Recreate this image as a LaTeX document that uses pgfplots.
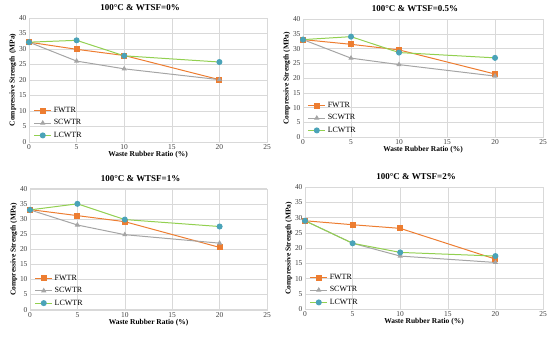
\documentclass[border=0pt]{standalone}
\usepackage{fontspec}
\setmainfont{Liberation Serif}
\usepackage{pgfplots}
\pgfplotsset{compat=1.18}
\definecolor{cF}{HTML}{ED7D31}
\definecolor{cS}{HTML}{A5A5A5}
\definecolor{cLl}{HTML}{92D050}
\definecolor{cLm}{HTML}{4AA3B8}
\definecolor{gridc}{HTML}{D9D9D9}
\pgfplotsset{
  panel/.style={
    anchor=south west, scale only axis,
    xmin=0, xmax=25, ymin=0, ymax=40,
    xtick={0,5,...,25}, ytick={0,5,...,40},
    grid=major, major grid style={gridc, line width=0.5pt},
    axis line style={gridc}, tick style={draw=none},
    /pgf/number format/assume math mode=true,
    tick label style={font=\fontsize{7.5}{8}\selectfont, text=black!75},
    xticklabel style={yshift=1pt}, yticklabel style={xshift=1pt},
    xlabel={\textbf{Waste Rubber Ratio (\%)}},
    ylabel={\textbf{Compressive Strength (MPa)}},
    label style={font=\fontsize{7.5}{8}\selectfont},
    xlabel style={yshift=5pt},
    ylabel style={yshift=-4pt},
    title style={font=\bfseries\fontsize{9}{10}\selectfont, yshift=-2pt, xshift=-8pt},
    legend style={at={(0.015,0.0)}, anchor=south west, draw=none, fill=none,
      font=\fontsize{8}{9}\selectfont, row sep=1.6pt, inner sep=1pt},
    legend cell align=left,
  },
  fw/.style={cF, line width=1pt, mark=square*, mark size=2.5pt, mark options={fill=cF, draw=cF}},
  sc/.style={cS, line width=1pt, mark=triangle*, mark size=2.1pt, mark options={fill=cS, draw=cS}},
  lc/.style={cLl, line width=1pt, mark=*, mark size=2.5pt, mark options={fill=cLm, draw=cLm}},
}
\begin{document}
\begin{tikzpicture}[x=1bp,y=1bp]
\path[use as bounding box] (0,0) rectangle (550,337);
% Panel 1
\begin{axis}[panel, at={(29bp,195bp)}, width=238bp, height=124bp, title={100°C \& WTSF=0\%}]
\addplot[fw] coordinates {(0,32.2) (5,29.9) (10,27.9) (20,20.1)};
\addplot[sc] coordinates {(0,32.2) (5,26.1) (10,23.6) (20,20.1)};
\addplot[lc] coordinates {(0,32.2) (5,32.8) (10,27.8) (20,25.8)};
\legend{FWTR,SCWTR,LCWTR}
\end{axis}
% Panel 2
\begin{axis}[panel, at={(303bp,200bp)}, width=240bp, height=117.7bp, title={100°C \& WTSF=0.5\%}]
\addplot[fw] coordinates {(0,33.1) (5,31.5) (10,29.6) (20,21.4)};
\addplot[sc] coordinates {(0,33.1) (5,26.8) (10,24.6) (20,20.7)};
\addplot[lc] coordinates {(0,33.1) (5,34.1) (10,28.7) (20,26.9)};
\legend{FWTR,SCWTR,LCWTR}
\end{axis}
% Panel 3
\begin{axis}[panel, at={(30bp,27.3bp)}, width=237bp, height=121bp, title={100°C \& WTSF=1\%}]
\addplot[fw] coordinates {(0,33.1) (5,31.1) (10,29.1) (20,20.6)};
\addplot[sc] coordinates {(0,33.0) (5,28.0) (10,24.8) (20,22.0)};
\addplot[lc] coordinates {(0,33.0) (5,35.0) (10,29.8) (20,27.5)};
\legend{FWTR,SCWTR,LCWTR}
\end{axis}
% Panel 4
\begin{axis}[panel, at={(305bp,28bp)}, width=238bp, height=121.7bp, title={100°C \& WTSF=2\%}]
\addplot[fw] coordinates {(0,29.0) (5,27.7) (10,26.5) (20,16.4)};
\addplot[sc] coordinates {(0,29.0) (5,21.6) (10,17.4) (20,15.3)};
\addplot[lc] coordinates {(0,29.0) (5,21.6) (10,18.6) (20,17.4)};
\legend{FWTR,SCWTR,LCWTR}
\end{axis}
\end{tikzpicture}
\end{document}
